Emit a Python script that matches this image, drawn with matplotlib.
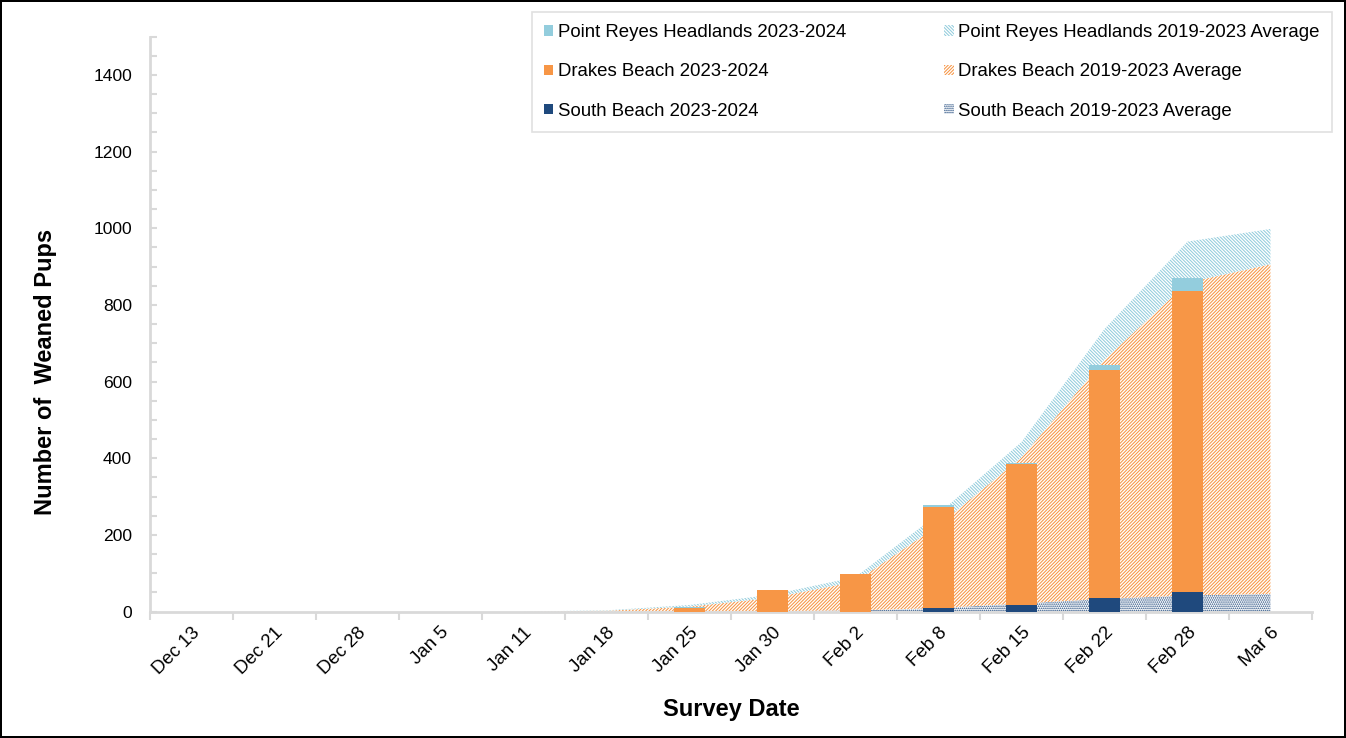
import numpy as np
import matplotlib
matplotlib.use("Agg")
import matplotlib.pyplot as plt
from matplotlib.patches import Patch
from matplotlib.ticker import MultipleLocator

plt.rcParams["font.family"] = ["Liberation Sans", "DejaVu Sans"]
plt.rcParams["hatch.linewidth"] = 0.75

dates = ["Dec 13", "Dec 21", "Dec 28", "Jan 5", "Jan 11", "Jan 18", "Jan 25",
         "Jan 30", "Feb 2", "Feb 8", "Feb 15", "Feb 22", "Feb 28", "Mar 6"]

# 2023-2024 season (bars)
south_2024 = [0, 0, 0, 0, 0, 0, 0, 0, 0, 9, 17, 35, 51, 0]
drakes_2024 = [0, 0, 0, 0, 0, 0, 10, 55, 97, 264, 369, 596, 786, 0]
headlands_2024 = [0, 0, 0, 0, 0, 0, 3, 0, 0, 6, 2, 13, 34, 0]

# 2019-2023 averages (stacked areas)
south_avg = [0, 0, 0, 0, 0, 0, 0, 1, 3, 9, 21, 33, 42, 46]
drakes_avg = [0, 0, 0, 0, 0, 2, 13, 35, 75, 216, 381, 624, 816, 860]
headlands_avg = [0, 0, 0, 0, 0, 1, 4, 8, 12, 30, 40, 80, 107, 92]

light_blue = "#93CDDD"
orange = "#F79646"
navy = "#1F497D"
grey = "#D9D9D9"

hatch_sb = "........"
hatch_dr = "//////////"
hatch_hd = "\\\\\\\\\\\\\\\\\\\\"

x = np.arange(len(dates))
s_avg = np.array(south_avg)
d_avg = s_avg + np.array(drakes_avg)
h_avg = d_avg + np.array(headlands_avg)

fig = plt.figure(figsize=(13.46, 7.38), dpi=100)
fig.patch.set_edgecolor("black")
fig.patch.set_linewidth(1.5)
ax = fig.add_axes([0.1114, 0.1714, 0.8633, 0.7791])

ax.fill_between(x, 0, s_avg, facecolor="white", edgecolor=navy,
                hatch=hatch_sb, linewidth=0)
ax.fill_between(x, s_avg, d_avg, facecolor="white", edgecolor=orange,
                hatch=hatch_dr, linewidth=0)
ax.fill_between(x, d_avg, h_avg, facecolor="white", edgecolor=light_blue,
                hatch=hatch_hd, linewidth=0)

sb = np.array(south_2024)
dr = np.array(drakes_2024)
hd = np.array(headlands_2024)
w = 0.375
ax.bar(x, sb, w, color=navy, zorder=3)
ax.bar(x, dr, w, bottom=sb, color=orange, zorder=3)
ax.bar(x, hd, w, bottom=sb + dr, color=light_blue, zorder=3)

ax.set_xlim(-0.5, len(dates) - 0.5)
ax.set_ylim(0, 1500)
ax.set_xticks(x)
ax.set_xticklabels(dates, rotation=45, ha="right", rotation_mode="anchor",
                   fontsize=13.4)
ax.set_xticks(np.arange(-0.5, len(dates)), minor=True)
ax.tick_params(axis="x", which="major", length=0, pad=9)
ax.tick_params(axis="x", which="minor", length=6, width=1.5, color=grey,
               direction="out")
ax.yaxis.set_minor_locator(MultipleLocator(50))
ax.set_yticks([0, 200, 400, 600, 800, 1000, 1200, 1400])
ax.tick_params(axis="y", which="both", direction="in", length=5, width=1.5,
               color=grey, labelsize=12.6, pad=13)

for side in ["top", "right"]:
    ax.spines[side].set_visible(False)
for side in ["left", "bottom"]:
    ax.spines[side].set_color(grey)
    ax.spines[side].set_linewidth(2)

ax.set_xlabel("Survey Date", fontsize=17, fontweight="bold")
ax.xaxis.set_label_coords(0.5, -0.151)
ax.set_ylabel("Number of  Weaned Pups", fontsize=17, fontweight="bold")
ax.yaxis.set_label_coords(-0.080, 0.4165)

handles = [
    Patch(facecolor=light_blue, label="Point Reyes Headlands 2023-2024"),
    Patch(facecolor=orange, label="Drakes Beach 2023-2024"),
    Patch(facecolor=navy, label="South Beach 2023-2024"),
    Patch(facecolor="white", edgecolor=light_blue, hatch=hatch_hd,
          linewidth=0, label="Point Reyes Headlands 2019-2023 Average"),
    Patch(facecolor="white", edgecolor=orange, hatch=hatch_dr,
          linewidth=0, label="Drakes Beach 2019-2023 Average"),
    Patch(facecolor="white", edgecolor=navy, hatch=hatch_sb,
          linewidth=0, label="South Beach 2019-2023 Average"),
]
leg = ax.legend(handles=handles, ncol=2, loc="upper right",
                bbox_to_anchor=(1332 / 1346, 1 - 12 / 738),
                bbox_transform=fig.transFigure, fontsize=13.4,
                frameon=True, fancybox=False, edgecolor=grey,
                handlelength=0.5, handleheight=0.5, handletextpad=0.25,
                labelspacing=1.2, columnspacing=5.3, borderpad=0.65,
                borderaxespad=0)
leg.get_frame().set_linewidth(1.2)

fig.savefig("out.png", dpi=100, edgecolor=fig.get_edgecolor())
